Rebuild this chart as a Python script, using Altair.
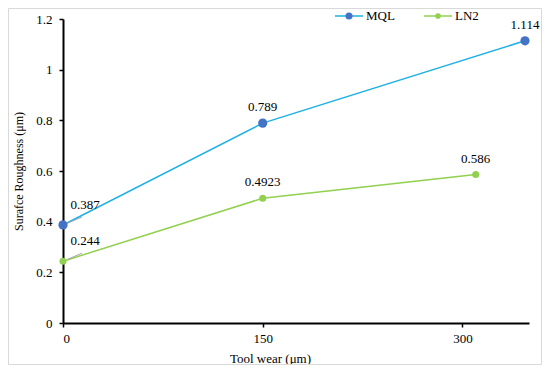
import altair as alt
import pandas as pd

series_names = ["MQL", "LN2"]
tool_wear_mql = [0, 150, 347]
roughness_mql = [0.387, 0.789, 1.114]
tool_wear_ln2 = [0, 150, 310]
roughness_ln2 = [0.244, 0.4923, 0.586]
line_colors = ["#1FB1E6", "#92D050"]
marker_colors = ["#4472C4", "#92D050"]
marker_sizes = [85, 50]
x_ticks = [0, 150, 300]
y_ticks = [0, 0.2, 0.4, 0.6, 0.8, 1.0, 1.2]

FONT = "Liberation Serif, Times New Roman, serif"
W, H = 466, 304

df = pd.DataFrame({
    "series": ["MQL"] * len(tool_wear_mql) + ["LN2"] * len(tool_wear_ln2),
    "wear": tool_wear_mql + tool_wear_ln2,
    "rough": roughness_mql + roughness_ln2,
})
df["label"] = [f"{v:g}" for v in df["rough"]]

x_enc = alt.X(
    "wear:Q",
    scale=alt.Scale(domain=[0, 350], nice=False, zero=True),
    axis=alt.Axis(
        values=x_ticks, title="Tool wear (μm)", grid=False,
        domainColor="black", domainWidth=2, tickColor="black", tickSize=4, tickWidth=1.5,
        labelFont=FONT, labelFontSize=13, labelColor="black", labelPadding=5,
        titleFont=FONT, titleFontSize=13, titleFontWeight="normal", titleColor="black",
        titleX=207, titleY=35, titleBaseline="middle", titleAlign="center",
    ),
)
y_enc = alt.Y(
    "rough:Q",
    scale=alt.Scale(domain=[0, 1.2], nice=False),
    axis=alt.Axis(
        values=y_ticks, format="~g", title="Surafce Roughness (μm)", grid=False,
        domainColor="black", domainWidth=2, tickColor="black", tickSize=4, tickWidth=1.5,
        labelFont=FONT, labelFontSize=13, labelColor="black", labelPadding=7,
        titleFont=FONT, titleFontSize=12, titleFontWeight="normal", titleColor="black",
        titleX=-45, titleY=H / 2, titleAngle=-90, titleBaseline="middle", titleAlign="center",
    ),
)

base = alt.Chart(df)

lines = base.mark_line(strokeWidth=1.5).encode(
    x=x_enc, y=y_enc,
    color=alt.Color("series:N", scale=alt.Scale(domain=series_names, range=line_colors), legend=None),
    detail="series:N",
)

points = base.mark_point(filled=True, opacity=1).encode(
    x="wear:Q", y="rough:Q",
    fill=alt.Fill("series:N", scale=alt.Scale(domain=series_names, range=marker_colors), legend=None),
    size=alt.Size("series:N", scale=alt.Scale(domain=series_names, range=marker_sizes), legend=None),
)

labels_main = base.transform_filter("datum.wear > 0").mark_text(
    font=FONT, fontSize=13, color="black", dy=-16, baseline="middle", align="center"
).encode(x="wear:Q", y="rough:Q", text="label:N")

labels_zero = base.transform_filter("datum.wear == 0").mark_text(
    font=FONT, fontSize=13, color="black", dx=22, dy=-20, baseline="middle", align="center"
).encode(x="wear:Q", y="rough:Q", text="label:N")

leaders = base.transform_filter("datum.wear == 0").mark_rule(
    color="#A6A6A6", strokeWidth=1, xOffset=5, yOffset=-2, x2Offset=19, y2Offset=-8
).encode(x="wear:Q", y="rough:Q", x2="wear:Q", y2="rough:Q")

frame = alt.Chart(pd.DataFrame({"f": [0]})).mark_rect(
    fill=None, stroke="#D9D9D9", strokeWidth=1
).encode(
    x=alt.value(-54.5), x2=alt.value(W + 12.5), y=alt.value(-10.5), y2=alt.value(H + 41.5)
)

legend_layers = []
legend_x = [286, 375]
legend_y = -3
legend_sizes = [50, 32]
for i, name in enumerate(series_names):
    ld = alt.Chart(pd.DataFrame({"series": [name]}))
    lx = legend_x[i]
    legend_layers.append(
        ld.mark_rule(color=line_colors[i], strokeWidth=1.5).encode(
            x=alt.value(lx - 14), x2=alt.value(lx + 14), y=alt.value(legend_y)
        )
    )
    legend_layers.append(
        ld.mark_point(filled=True, opacity=1, color=marker_colors[i], size=legend_sizes[i]).encode(
            x=alt.value(lx), y=alt.value(legend_y)
        )
    )
    legend_layers.append(
        ld.mark_text(font=FONT, fontSize=13, color="black", align="left", baseline="middle").encode(
            x=alt.value(lx + 17), y=alt.value(legend_y), text="series:N"
        )
    )

chart = alt.layer(
    frame, lines, leaders, points, labels_main, labels_zero, *legend_layers
).resolve_scale(color="independent").properties(
    width=W, height=H,
    autosize=alt.AutoSizeParams(type="none"),
    padding={"left": 55, "top": 11, "right": 13, "bottom": 42},
    background="white",
).configure_view(stroke=None)

chart.save("out.html", embed_options={"renderer": "svg", "actions": False})
